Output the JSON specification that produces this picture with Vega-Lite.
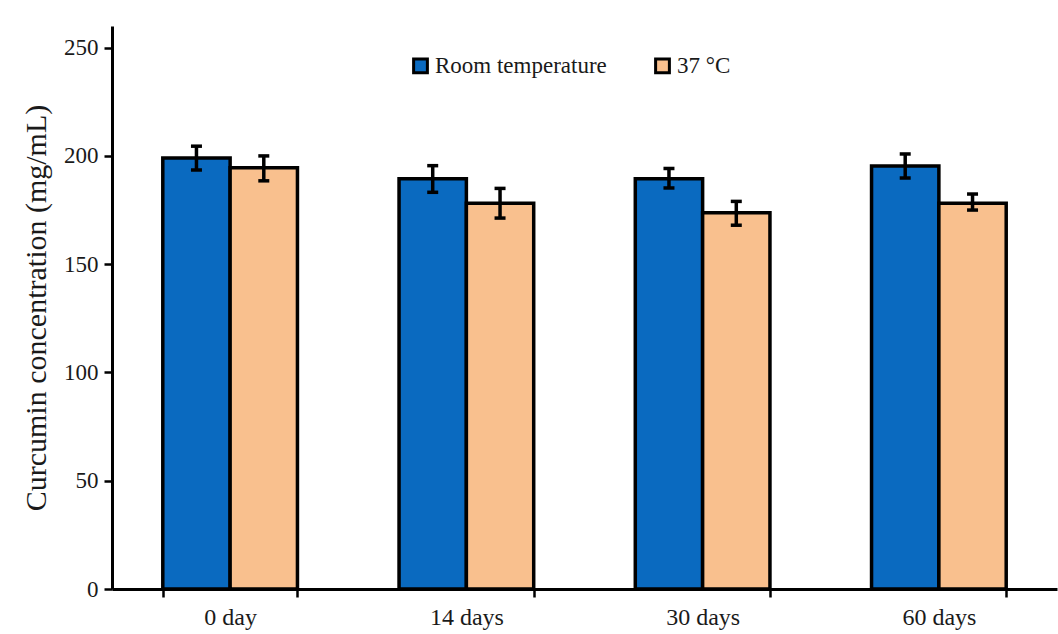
{
  "$schema": "https://vega.github.io/schema/vega-lite/v6.json",
  "width": 945,
  "height": 563,
  "autosize": {"type": "none"},
  "padding": {"left": 112, "top": 26, "right": 1, "bottom": 45},
  "background": "white",
  "config": {"view": {"stroke": null}, "font": "Liberation Serif"},
  "data": {
    "values": [
      {"day": "0 day", "cond": "Room temperature", "value": 199, "lo": 193.5, "hi": 204.5},
      {"day": "0 day", "cond": "37 °C", "value": 194.5, "lo": 188.5, "hi": 200},
      {"day": "14 days", "cond": "Room temperature", "value": 189.5, "lo": 183.2, "hi": 195.5},
      {"day": "14 days", "cond": "37 °C", "value": 178.2, "lo": 171.3, "hi": 185},
      {"day": "30 days", "cond": "Room temperature", "value": 189.5, "lo": 185.2, "hi": 194.2},
      {"day": "30 days", "cond": "37 °C", "value": 173.8, "lo": 168, "hi": 179},
      {"day": "60 days", "cond": "Room temperature", "value": 195.4, "lo": 189.8, "hi": 200.9},
      {"day": "60 days", "cond": "37 °C", "value": 178.2, "lo": 175, "hi": 182.4}
    ]
  },
  "encoding": {
    "x": {
      "field": "day",
      "type": "nominal",
      "sort": ["0 day", "14 days", "30 days", "60 days"],
      "scale": {"paddingInner": 0.43, "paddingOuter": 0.215},
      "axis": {
        "title": null,
        "labelAngle": 0,
        "labelFontSize": 24,
        "labelColor": "#1a1a1a",
        "labelPadding": 8,
        "tickBand": "extent",
        "tickSize": 8,
        "tickWidth": 2.5,
        "tickColor": "black",
        "domainColor": "black",
        "domainWidth": 3
      }
    },
    "xOffset": {"field": "cond", "type": "nominal", "sort": ["Room temperature", "37 °C"]}
  },
  "layer": [
    {
      "mark": {"type": "bar", "stroke": "black", "strokeWidth": 3.5},
      "encoding": {
        "y": {
          "field": "value",
          "type": "quantitative",
          "scale": {"domain": [0, 250]},
          "axis": {
            "title": "Curcumin concentration (mg/mL)",
            "titleFontSize": 30,
            "titleFontWeight": "normal",
            "titleColor": "#1a1a1a",
            "titlePadding": 12,
            "values": [0, 50, 100, 150, 200, 250],
            "labelFontSize": 23,
            "labelColor": "#1a1a1a",
            "labelPadding": 6,
            "tickSize": 8,
            "tickWidth": 2.5,
            "tickColor": "black",
            "domainColor": "black",
            "domainWidth": 3,
            "grid": false
          }
        },
        "color": {
          "field": "cond",
          "type": "nominal",
          "sort": ["Room temperature", "37 °C"],
          "scale": {"domain": ["Room temperature", "37 °C"], "range": ["#0A6AC0", "#F9C08E"]},
          "legend": {
            "title": null,
            "orient": "none",
            "legendX": 297,
            "legendY": 28,
            "direction": "horizontal",
            "symbolType": "square",
            "symbolSize": 190,
            "symbolStrokeColor": "black",
            "symbolStrokeWidth": 3,
            "symbolOpacity": 1,
            "labelFontSize": 23,
            "labelColor": "#1a1a1a",
            "labelOffset": 3,
            "labelLimit": 400,
            "columnPadding": 42
          }
        }
      }
    },
    {
      "mark": {"type": "rule", "color": "black", "strokeWidth": 3.5},
      "encoding": {
        "y": {"field": "lo", "type": "quantitative"},
        "y2": {"field": "hi"}
      }
    },
    {
      "mark": {"type": "tick", "color": "black", "thickness": 3.5, "size": 11, "opacity": 1},
      "encoding": {"y": {"field": "lo", "type": "quantitative"}}
    },
    {
      "mark": {"type": "tick", "color": "black", "thickness": 3.5, "size": 11, "opacity": 1},
      "encoding": {"y": {"field": "hi", "type": "quantitative"}}
    }
  ]
}
